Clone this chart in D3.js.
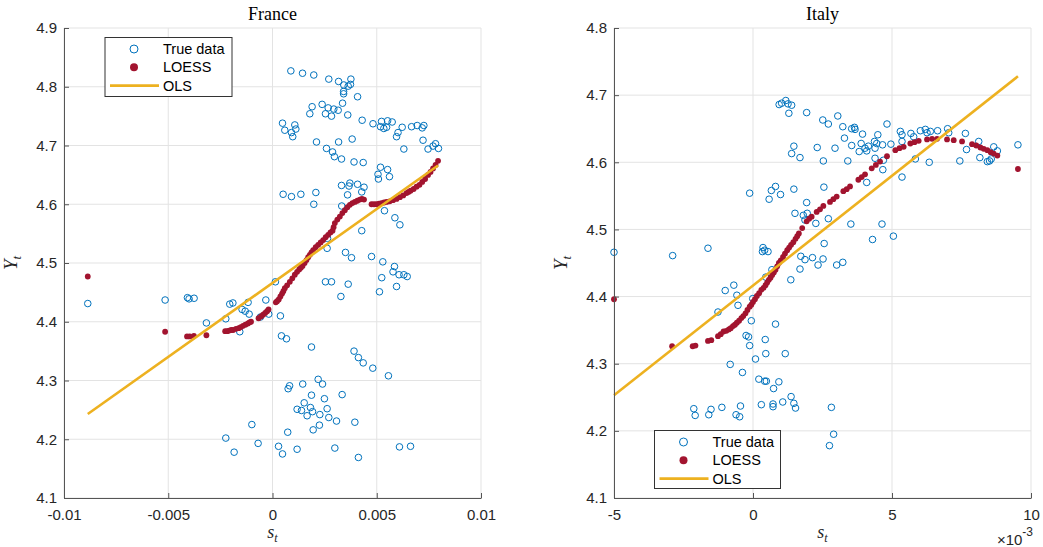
<!DOCTYPE html>
<html>
<head>
<meta charset="utf-8">
<script src="https://cdn.jsdelivr.net/npm/d3@7"></script>
<style>
  body { margin: 0; background: #fff; }
  svg { display: block; }
</style>
</head>
<body>
<svg id="chart" width="1043" height="547"></svg>
<script>
// s values are kept in units of 1e-3, Y in levels.
const franceTrue = [
  [0.88,4.827],[1.44,4.823],[1.98,4.820],[2.70,4.813],[3.17,4.809],[3.76,4.813],[3.42,4.803],[3.63,4.801],
  [3.74,4.804],[3.41,4.792],[3.41,4.788],[4.08,4.783],[1.90,4.766],[2.38,4.770],[2.67,4.764],[2.94,4.762],
  [3.15,4.760],[3.36,4.772],[1.79,4.754],[2.54,4.754],[2.83,4.750],[3.61,4.752],[4.30,4.743],[4.82,4.737],
  [5.23,4.741],[5.52,4.742],[5.74,4.740],[5.18,4.732],[5.47,4.731],[5.34,4.729],[0.48,4.738],[0.59,4.726],
  [1.07,4.735],[1.12,4.728],[0.91,4.722],[0.97,4.715],[6.22,4.731],[6.67,4.732],[6.94,4.734],[7.18,4.730],
  [7.26,4.734],[6.02,4.722],[5.95,4.715],[7.22,4.709],[6.30,4.694],[7.46,4.694],[7.70,4.699],[7.82,4.703],
  [7.96,4.695],[2.11,4.706],[3.17,4.706],[3.82,4.711],[2.59,4.695],[2.88,4.689],[2.97,4.681],[3.31,4.677],
  [3.91,4.672],[4.35,4.671],[5.18,4.663],[5.52,4.659],[5.06,4.651],[5.08,4.643],[5.61,4.647],[3.31,4.632],
  [3.71,4.636],[3.67,4.631],[4.08,4.634],[4.39,4.629],[4.28,4.621],[3.60,4.616],[0.51,4.617],[0.91,4.613],
  [1.36,4.617],[2.08,4.620],[1.98,4.600],[3.32,4.597],[5.37,4.589],[5.87,4.577],[6.11,4.565],[4.28,4.555],
  [2.64,4.542],[2.62,4.525],[3.50,4.518],[3.79,4.509],[4.75,4.511],[5.29,4.502],[5.85,4.494],[5.78,4.485],
  [6.07,4.480],[6.30,4.480],[6.46,4.477],[5.24,4.475],[5.95,4.460],[5.13,4.451],[2.54,4.468],[2.83,4.468],
  [3.63,4.464],[3.28,4.443],[0.14,4.468],[-0.32,4.437],[-0.18,4.413],[0.38,4.410],[-0.58,4.408],[0.43,4.376],
  [0.67,4.371],[1.87,4.357],[3.91,4.350],[4.12,4.339],[4.35,4.330],[4.81,4.321],[5.56,4.308],[2.19,4.302],
  [2.40,4.294],[1.45,4.294],[0.82,4.291],[0.75,4.286],[1.87,4.275],[3.34,4.276],[2.49,4.269],[1.52,4.262],
  [1.18,4.251],[1.39,4.249],[1.82,4.254],[1.92,4.247],[1.66,4.240],[2.27,4.242],[2.62,4.252],[2.70,4.237],
  [3.07,4.231],[3.95,4.229],[2.25,4.224],[1.95,4.216],[0.73,4.212],[-0.99,4.225],[-2.24,4.202],[-1.84,4.178],
  [-0.69,4.193],[0.29,4.188],[0.48,4.175],[1.18,4.183],[2.99,4.185],[4.12,4.169],[6.09,4.187],[6.62,4.188],
  [-8.86,4.431],[-5.15,4.437],[-4.08,4.441],[-4.00,4.439],[-3.76,4.440],[-3.17,4.398],[-2.24,4.405],[-2.05,4.430],
  [-1.90,4.432],[-1.17,4.433],[-1.46,4.421],[-1.31,4.418],[-1.12,4.413],[-1.57,4.383]
];
const franceLoess = [
  [-8.86,4.477],[-5.15,4.383],[-4.10,4.375],[-3.97,4.375],[-3.77,4.376],[-3.17,4.377],
  [-2.27,4.384],[-2.17,4.384],[-2.08,4.385],[-1.98,4.386],[-1.89,4.386],[-1.75,4.388],[-1.62,4.389],[-1.52,4.391],
  [-1.41,4.393],[-1.30,4.395],[-1.18,4.397],[-1.10,4.399],[-1.03,4.400],[-0.67,4.406],[-0.55,4.409],[-0.45,4.412],
  [-0.35,4.415],[-0.26,4.418],[-0.19,4.421],[0.16,4.433],[0.22,4.435],[0.30,4.438],[0.38,4.443],[0.46,4.448],
  [0.52,4.452],[0.59,4.457],[0.70,4.462],[0.83,4.468],[0.95,4.474],[1.07,4.480],[1.18,4.485],[1.28,4.489],
  [1.36,4.492],[1.44,4.495],[1.54,4.500],[1.63,4.505],[1.71,4.510],[1.79,4.514],[1.87,4.518],[1.95,4.522],
  [2.07,4.527],[2.19,4.531],[2.31,4.535],[2.43,4.539],[2.55,4.544],[2.67,4.548],[2.78,4.552],[2.88,4.555],
  [2.93,4.561],[2.99,4.568],[3.11,4.574],[3.23,4.579],[3.35,4.585],[3.47,4.590],[3.59,4.595],[3.71,4.599],
  [3.83,4.602],[3.95,4.604],[4.07,4.606],[4.19,4.608],[4.29,4.609],[4.39,4.608],[4.75,4.600],[4.87,4.600],
  [4.99,4.600],[5.11,4.601],[5.23,4.602],[5.35,4.603],[5.47,4.604],[5.62,4.605],[5.78,4.607],[5.95,4.609],
  [6.11,4.612],[6.27,4.615],[6.43,4.619],[6.52,4.621],[6.62,4.623],[6.77,4.626],[6.91,4.630],[7.05,4.633],
  [7.18,4.638],[7.32,4.643],[7.46,4.650],[7.58,4.655],[7.70,4.661],[7.82,4.667],[7.94,4.674]
];
const franceOls = [[-8.86,4.243],[7.94,4.666]];

const italyTrue = [
  [0.94,4.686],[1.03,4.688],[1.18,4.692],[1.26,4.687],[1.39,4.685],[1.29,4.673],[1.93,4.674],[2.51,4.663],
  [2.71,4.657],[3.05,4.669],[3.23,4.653],[3.55,4.650],[3.65,4.652],[3.67,4.649],[3.94,4.642],[4.49,4.641],
  [4.82,4.657],[3.29,4.636],[3.55,4.625],[3.89,4.628],[4.15,4.624],[4.37,4.631],[4.45,4.628],[4.66,4.626],
  [4.96,4.627],[3.82,4.616],[4.03,4.621],[4.09,4.617],[4.39,4.621],[1.47,4.624],[1.39,4.613],[1.69,4.607],
  [2.31,4.622],[2.95,4.621],[2.53,4.602],[3.41,4.602],[4.39,4.606],[4.69,4.603],[4.67,4.589],[5.30,4.646],
  [5.36,4.641],[5.68,4.643],[5.78,4.638],[5.36,4.631],[6.02,4.647],[6.20,4.649],[6.26,4.644],[6.38,4.646],
  [6.64,4.647],[7.00,4.650],[7.04,4.644],[7.64,4.643],[8.12,4.631],[8.66,4.623],[8.79,4.617],[7.68,4.619],
  [8.16,4.607],[8.43,4.601],[8.51,4.602],[8.57,4.605],[9.53,4.626],[5.84,4.605],[6.34,4.600],[7.44,4.602],
  [5.36,4.578],[-0.12,4.554],[0.66,4.558],[0.81,4.564],[0.58,4.545],[0.99,4.552],[1.47,4.560],[2.55,4.563],
  [4.09,4.570],[1.93,4.540],[1.51,4.524],[1.81,4.521],[1.95,4.524],[1.87,4.514],[2.26,4.509],[2.71,4.516],
  [3.52,4.508],[4.64,4.508],[5.05,4.490],[4.30,4.485],[2.56,4.479],[0.36,4.473],[0.42,4.469],[0.54,4.467],
  [0.34,4.467],[-5.00,4.466],[-2.89,4.461],[-1.62,4.472],[1.72,4.460],[1.87,4.455],[2.14,4.458],[2.52,4.456],
  [2.34,4.447],[3.01,4.447],[3.23,4.451],[1.69,4.441],[1.36,4.425],[0.68,4.440],[0.46,4.429],[-1.00,4.409],
  [-0.69,4.417],[-0.58,4.402],[-0.54,4.387],[-1.26,4.377],[-0.01,4.397],[-0.06,4.364],[0.81,4.359],[-0.25,4.342],
  [-0.16,4.340],[0.44,4.336],[-0.12,4.327],[0.46,4.315],[1.16,4.315],[0.09,4.307],[-0.82,4.299],[-0.38,4.287],
  [0.21,4.277],[0.42,4.274],[0.48,4.274],[0.93,4.273],[0.74,4.263],[1.37,4.251],[1.07,4.243],[1.47,4.241],
  [1.53,4.234],[0.72,4.240],[0.72,4.236],[0.30,4.239],[-0.45,4.237],[-0.61,4.224],[-0.48,4.221],[-1.12,4.235],
  [-1.51,4.232],[-1.59,4.224],[-2.13,4.233],[-2.08,4.223],[2.82,4.235],[2.90,4.195],[2.75,4.178]
];
const italyLoess = [
  [-5.00,4.396],[-2.91,4.326],[-2.17,4.326],[-2.07,4.327],[-1.62,4.334],[-1.50,4.335],[-1.26,4.341],[-1.16,4.344],
  [-1.06,4.348],[-0.96,4.349],[-0.87,4.351],[-0.80,4.353],[-0.72,4.356],[-0.65,4.358],[-0.58,4.361],[-0.50,4.364],
  [-0.42,4.368],[-0.35,4.371],[-0.27,4.375],[-0.20,4.380],[-0.12,4.385],[-0.06,4.388],[0.00,4.392],[0.07,4.396],
  [0.14,4.401],[0.22,4.405],[0.30,4.410],[0.38,4.413],[0.45,4.417],[0.51,4.421],[0.57,4.425],[0.63,4.428],
  [0.69,4.432],[0.75,4.436],[0.81,4.440],[0.87,4.445],[0.93,4.450],[1.00,4.454],[1.08,4.459],[1.15,4.464],
  [1.23,4.469],[1.30,4.473],[1.37,4.477],[1.45,4.481],[1.53,4.486],[1.59,4.490],[1.65,4.494],[1.77,4.502],
  [1.93,4.512],[2.02,4.516],[2.11,4.519],[2.29,4.526],[2.41,4.530],[2.53,4.535],[2.77,4.541],[2.89,4.545],
  [3.01,4.549],[3.25,4.557],[3.37,4.560],[3.49,4.564],[3.79,4.574],[3.91,4.578],[4.03,4.582],[4.27,4.591],
  [4.42,4.596],[4.57,4.601],[4.82,4.609],[5.12,4.618],[5.27,4.621],[5.42,4.623],[5.66,4.628],[5.81,4.630],
  [5.96,4.632],[6.26,4.634],[6.44,4.635],[6.62,4.635],[6.98,4.634],[7.22,4.633],[7.52,4.631],[7.88,4.627],
  [8.03,4.625],[8.18,4.622],[8.30,4.620],[8.43,4.618],[8.55,4.615],[8.66,4.613],[8.79,4.610],[9.53,4.590]
];
const italyOls = [[-5.00,4.253],[9.53,4.728]];

const franceXTicks = [-10, -5, 0, 5, 10];
const franceYTicks = [4.1, 4.2, 4.3, 4.4, 4.5, 4.6, 4.7, 4.8, 4.9];
const italyXTicks = [-5, 0, 5, 10];
const italyYTicks = [4.1, 4.2, 4.3, 4.4, 4.5, 4.6, 4.7, 4.8];
const legendLabels = ['True data', 'LOESS', 'OLS'];

const BLUE = '#0072BD', RED = '#A2142F', GOLD = '#EDB120';
const SANS = '"Liberation Sans", Arial, Helvetica, sans-serif';
const SERIF = '"Liberation Serif", "Times New Roman", serif';

const svg = d3.select('#chart');
svg.append('rect').attr('width', 1043).attr('height', 547).attr('fill', '#fff');

function drawPanel(p) {
  const x = d3.scaleLinear().domain(p.xDomain).range([p.left, p.right]);
  const y = d3.scaleLinear().domain(p.yDomain).range([p.bottom, p.top]);
  const g = svg.append('g').attr('class', 'panel');

  // grid
  g.append('g').selectAll('line').data(p.xTicks).join('line')
    .attr('x1', d => x(d)).attr('x2', d => x(d))
    .attr('y1', p.top).attr('y2', p.bottom)
    .attr('stroke', '#e3e3e3').attr('stroke-width', 1);
  g.append('g').selectAll('line').data(p.yTicks).join('line')
    .attr('x1', p.left).attr('x2', p.right)
    .attr('y1', d => y(d)).attr('y2', d => y(d))
    .attr('stroke', '#e3e3e3').attr('stroke-width', 1);

  // data
  const clipId = 'clip-' + p.title;
  svg.append('clipPath').attr('id', clipId).append('rect')
    .attr('x', p.left - 6).attr('y', p.top - 6)
    .attr('width', p.right - p.left + 12).attr('height', p.bottom - p.top + 12);
  const plot = g.append('g').attr('clip-path', `url(#${clipId})`);

  plot.append('g').selectAll('circle').data(p.truth).join('circle')
    .attr('cx', d => x(d[0])).attr('cy', d => y(d[1]))
    .attr('r', 3.3).attr('fill', 'none')
    .attr('stroke', BLUE).attr('stroke-width', 1);

  plot.append('g').selectAll('circle').data(p.loess).join('circle')
    .attr('cx', d => x(d[0])).attr('cy', d => y(d[1]))
    .attr('r', 2.9).attr('fill', RED);

  plot.append('path').datum(p.ols)
    .attr('d', d3.line().x(d => x(d[0])).y(d => y(d[1])))
    .attr('fill', 'none').attr('stroke', GOLD).attr('stroke-width', 2.6);

  // axes, ticks point inward like the original
  const xAxis = d3.axisBottom(x).tickValues(p.xTicks).tickFormat(p.xFmt)
    .tickSizeInner(-5).tickSizeOuter(0).tickPadding(11);
  const yAxis = d3.axisLeft(y).tickValues(p.yTicks).tickFormat(d3.format('.1f'))
    .tickSizeInner(-5).tickSizeOuter(0).tickPadding(7);

  const gx = g.append('g').attr('transform', `translate(0,${p.bottom})`).call(xAxis);
  const gy = g.append('g').attr('transform', `translate(${p.left},0)`).call(yAxis);
  for (const ax of [gx, gy]) {
    ax.select('.domain').attr('stroke', '#555').attr('stroke-width', 1);
    ax.selectAll('.tick line').attr('stroke', '#555');
    ax.selectAll('.tick text').attr('fill', '#262626')
      .style('font-family', SANS).style('font-size', '15px');
  }

  // title
  g.append('text').attr('x', (p.left + p.right) / 2).attr('y', 20)
    .attr('text-anchor', 'middle').style('font-family', SERIF).style('font-size', '18px')
    .attr('fill', '#000').text(p.title);

  // x label
  const xl = g.append('text').attr('x', (p.left + p.right) / 2).attr('y', 538)
    .attr('text-anchor', 'middle').style('font-family', SERIF).style('font-size', '18px')
    .style('font-style', 'italic').attr('fill', '#262626');
  xl.append('tspan').text('s');
  xl.append('tspan').attr('dy', 4).style('font-size', '12px').text('t');

  // y label
  const yl = g.append('text')
    .attr('transform', `translate(${p.left - 47},${(p.top + p.bottom) / 2}) rotate(-90)`)
    .attr('text-anchor', 'middle').style('font-family', SERIF).style('font-size', '19px')
    .style('font-style', 'italic').attr('fill', '#262626');
  yl.append('tspan').text('Y');
  yl.append('tspan').attr('dy', 4).style('font-size', '13px').text('t');

  if (p.multiplier) {
    const m = g.append('text').attr('x', p.right + 2).attr('y', 545)
      .attr('text-anchor', 'end').style('font-family', SANS).attr('fill', '#262626');
    m.append('tspan').style('font-size', '15px').text('×10');
    m.append('tspan').attr('dy', -9).style('font-size', '12px').text('-3');
  }

  // legend
  const L = p.legend;
  const lg = g.append('g').attr('transform', `translate(${L.x},${L.y})`);
  lg.append('rect').attr('width', L.w).attr('height', L.h)
    .attr('fill', '#fff').attr('stroke', '#333').attr('stroke-width', 1);
  const rows = lg.selectAll('g.item').data(legendLabels).join('g')
    .attr('transform', (d, i) => `translate(0,${11.5 + i * 18.3})`);
  rows.append('text').attr('x', 58).attr('dy', '0.35em')
    .style('font-family', SANS).style('font-size', '14.5px').attr('fill', '#000')
    .text(d => d);
  rows.filter((d, i) => i === 0).append('circle')
    .attr('cx', 29).attr('r', 4).attr('fill', 'none').attr('stroke', BLUE).attr('stroke-width', 1);
  rows.filter((d, i) => i === 1).append('circle')
    .attr('cx', 29).attr('r', 4).attr('fill', RED);
  rows.filter((d, i) => i === 2).append('line')
    .attr('x1', 5).attr('x2', 54).attr('stroke', GOLD).attr('stroke-width', 2.6);
}

drawPanel({
  title: 'France', left: 64, right: 481, top: 28, bottom: 498,
  xDomain: [-10, 10], xTicks: franceXTicks, xFmt: d => String(d / 1000),
  yDomain: [4.1, 4.9], yTicks: franceYTicks,
  truth: franceTrue, loess: franceLoess, ols: franceOls,
  legend: { x: 105, y: 37.5, w: 127, h: 59 }, multiplier: false
});

drawPanel({
  title: 'Italy', left: 614, right: 1031, top: 28, bottom: 498,
  xDomain: [-5, 10], xTicks: italyXTicks, xFmt: d => String(d),
  yDomain: [4.1, 4.8], yTicks: italyYTicks,
  truth: italyTrue, loess: italyLoess, ols: italyOls,
  legend: { x: 654.5, y: 430.5, w: 126, h: 58 }, multiplier: true
});
</script>
</body>
</html>
